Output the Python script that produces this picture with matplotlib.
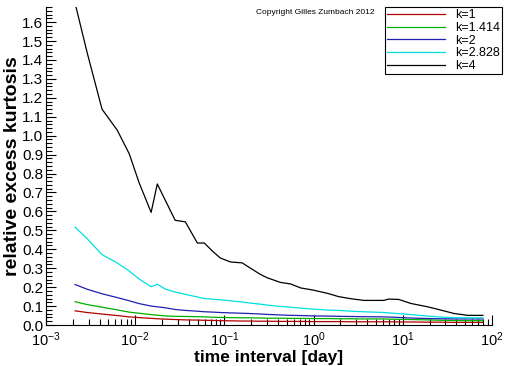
import matplotlib
matplotlib.use("Agg")
import matplotlib.pyplot as plt
from matplotlib.ticker import MultipleLocator, LogLocator

plt.rcParams['font.family'] = ['Liberation Sans', 'DejaVu Sans']
plt.rcParams['mathtext.default'] = 'regular'

# time interval in days
days = [0.00212, 0.00289, 0.00425, 0.00628, 0.00857, 0.0111, 0.0151, 0.0177,
        0.0217, 0.0281, 0.0365, 0.0498, 0.0596, 0.0752, 0.0901, 0.117, 0.159,
        0.186, 0.254, 0.304, 0.426, 0.552, 0.715, 1.0, 1.44, 1.91, 2.61, 3.65,
        6.12, 6.96, 9.02, 12.3, 19.1, 26.7, 37.4, 53.7, 79.2]

k1 = [0.075, 0.066, 0.058, 0.050, 0.043, 0.039, 0.035, 0.033, 0.031, 0.029,
      0.027, 0.026, 0.025, 0.024, 0.023, 0.022, 0.021, 0.021, 0.020, 0.020,
      0.019, 0.019, 0.019, 0.018, 0.018, 0.018, 0.017, 0.017, 0.017, 0.017,
      0.016, 0.016, 0.015, 0.015, 0.014, 0.014, 0.014]
k1414 = [0.123, 0.108, 0.094, 0.080, 0.068, 0.062, 0.055, 0.052, 0.048, 0.046,
         0.045, 0.044, 0.043, 0.041, 0.040, 0.039, 0.038, 0.038, 0.037, 0.036,
         0.036, 0.035, 0.035, 0.034, 0.034, 0.033, 0.033, 0.032, 0.032, 0.031,
         0.030, 0.029, 0.027, 0.025, 0.024, 0.023, 0.023]
k2 = [0.214, 0.189, 0.165, 0.145, 0.128, 0.113, 0.100, 0.096, 0.091, 0.082,
      0.077, 0.073, 0.070, 0.068, 0.066, 0.064, 0.062, 0.061, 0.058, 0.056,
      0.053, 0.051, 0.050, 0.048, 0.047, 0.046, 0.045, 0.044, 0.043, 0.042,
      0.040, 0.037, 0.034, 0.033, 0.032, 0.032, 0.032]
k2828 = [0.517, 0.456, 0.372, 0.328, 0.285, 0.243, 0.202, 0.215, 0.190, 0.174,
         0.162, 0.148, 0.140, 0.136, 0.133, 0.128, 0.121, 0.117, 0.110, 0.105,
         0.098, 0.094, 0.089, 0.084, 0.079, 0.077, 0.073, 0.070, 0.066, 0.064,
         0.060, 0.055, 0.047, 0.042, 0.039, 0.038, 0.038]
k4 = [1.70, 1.44, 1.14, 1.03, 0.905, 0.750, 0.595, 0.745, 0.660, 0.553,
      0.545, 0.433, 0.433, 0.386, 0.354, 0.333, 0.328, 0.307, 0.267, 0.249,
      0.225, 0.217, 0.196, 0.184, 0.167, 0.150, 0.139, 0.130, 0.130, 0.137,
      0.135, 0.114, 0.096, 0.079, 0.061, 0.051, 0.051]

labels = ['k=1', 'k=1.414', 'k=2', 'k=2.828', 'k=4']
colors = ['#b00000', '#00b000', '#2020b0', '#00e0e0', 'black']

fig = plt.figure(figsize=(5.12, 3.66), dpi=100)
ax = fig.add_axes([0.0898, 0.112, 0.871, 0.869])

for vals, lab, c in zip([k1, k1414, k2, k2828, k4], labels, colors):
    ax.plot(days, vals, color=c, lw=0.9, label=lab)

ax.set_xscale('log')
ax.set_xlim(1e-3, 1e2)
ax.set_ylim(0, 1.68)
ax.yaxis.set_major_locator(MultipleLocator(0.1))
ax.yaxis.set_minor_locator(MultipleLocator(0.02))
ax.xaxis.set_minor_locator(LogLocator(base=10, subs=range(2, 10), numticks=20))
ax.yaxis.set_major_formatter(matplotlib.ticker.FormatStrFormatter('%.1f'))

for s in ['top', 'right']:
    ax.spines[s].set_visible(False)
ax.tick_params(which='both', direction='in', labelsize=11, width=0.8)
ax.tick_params(axis='x', labelsize=10.5, pad=4)
ax.tick_params(which='major', length=7)
ax.tick_params(which='minor', length=4)
ax.tick_params(axis='y', pad=2)

xl = ax.set_xlabel('time interval [day]', fontsize=12.5, fontweight='bold')
ax.xaxis.set_label_coords(0.5, -0.102)
xl.set_va('center')
ax.set_ylabel('relative excess kurtosis', fontsize=14, fontweight='bold', labelpad=1)

fig.text(0.5, 0.962, 'Copyright Gilles Zumbach 2012', fontsize=6)
leg = fig.legend(loc='upper right', bbox_to_anchor=(0.981, 0.981), fontsize=9,
                 fancybox=False, framealpha=1, edgecolor='black', handlelength=4.6,
                 labelspacing=0.05, borderpad=0.2, handletextpad=0.8, borderaxespad=0)
leg.get_frame().set_linewidth(0.8)

fig.savefig('out.png', dpi=100)
